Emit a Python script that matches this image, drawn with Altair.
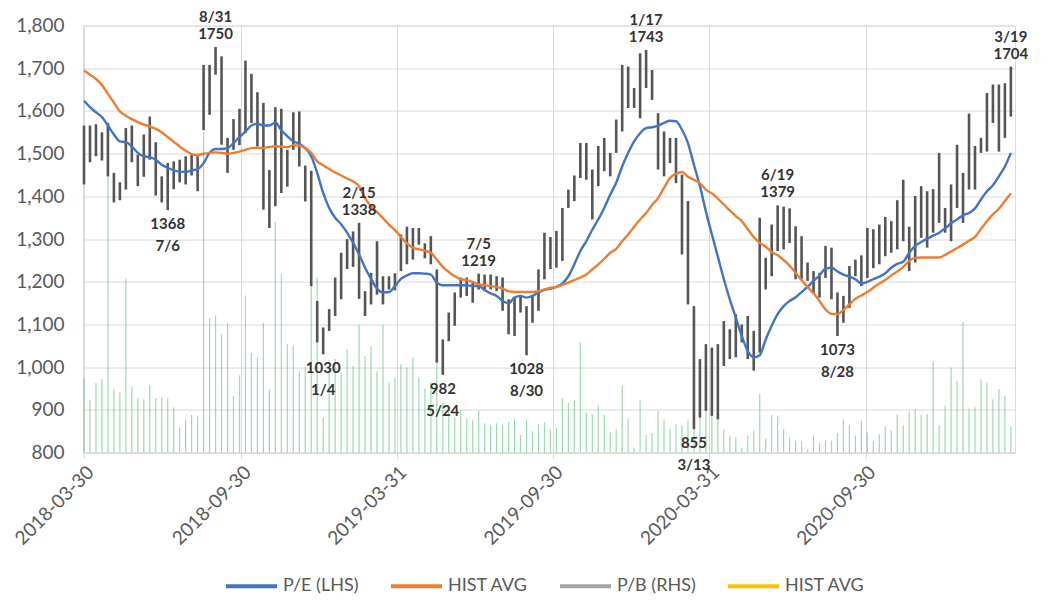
import altair as alt
import pandas as pd

# ---------------- data (weekly, Fridays) ----------------
start_date = "2018-03-30"

high = [
    1566, 1566, 1569, 1550, 1572, 1455, 1433, 1560, 1566, 1498,
    1545, 1587, 1527, 1447, 1478, 1482, 1486, 1494, 1498, 1494,
    1708, 1708, 1750, 1728, 1537, 1581, 1605, 1718, 1687, 1644,
    1619, 1462, 1609, 1605, 1509, 1597, 1599, 1472, 1460, 1155,
    1093, 1136, 1210, 1268, 1300, 1318, 1338, 1178, 1221, 1295,
    1213, 1213, 1220, 1311, 1329, 1326, 1326, 1290, 1307, 1229,
    1065, 1128, 1175, 1210, 1210, 1198, 1219, 1217, 1217, 1213,
    1210, 1159, 1163, 1167, 1143, 1167, 1229, 1315, 1305, 1319,
    1373, 1416, 1449, 1525, 1525, 1463, 1518, 1537, 1502, 1580,
    1708, 1704, 1654, 1735, 1743, 1696, 1595, 1552, 1537, 1537,
    1451, 1389, 1143, 1019, 1054, 1046, 1054, 1108, 1089, 1124,
    1100, 1120, 1085, 1350, 1256, 1334, 1379, 1376, 1372, 1330,
    1307, 1245, 1225, 1221, 1284, 1280, 1175, 1167, 1237, 1252,
    1262, 1326, 1323, 1334, 1352, 1342, 1391, 1439, 1329, 1401,
    1424, 1412, 1417, 1502, 1373, 1428, 1521, 1455, 1594, 1518,
    1537, 1642, 1662, 1662, 1665, 1704,
]

low = [
    1428, 1480, 1494, 1484, 1447, 1386, 1391, 1416, 1480, 1424,
    1446, 1486, 1402, 1386, 1368, 1417, 1433, 1428, 1449, 1412,
    1555, 1591, 1685, 1521, 1455, 1509, 1520, 1548, 1572, 1517,
    1369, 1326, 1377, 1408, 1423, 1509, 1470, 1388, 1190, 1058,
    1030, 1085, 1120, 1159, 1230, 1235, 1160, 1120, 1147, 1170,
    1147, 1182, 1180, 1225, 1241, 1252, 1287, 1255, 1241, 1011,
    982, 1061, 1097, 1163, 1167, 1151, 1182, 1178, 1182, 1178,
    1132, 1077, 1073, 1128, 1028, 1104, 1132, 1206, 1230, 1233,
    1249, 1373, 1389, 1443, 1439, 1346, 1424, 1459, 1447, 1502,
    1552, 1607, 1607, 1583, 1654, 1626, 1463, 1447, 1478, 1431,
    1264, 1147, 855, 882, 898, 886, 878, 1003, 1019, 1023,
    1058, 1019, 992, 1034, 1182, 1213, 1272, 1276, 1291, 1206,
    1206, 1202, 1171, 1163, 1209, 1159, 1073, 1104, 1139, 1213,
    1190, 1209, 1232, 1241, 1260, 1268, 1276, 1295, 1225, 1245,
    1303, 1280, 1315, 1338, 1315, 1295, 1373, 1338, 1416, 1416,
    1502, 1505, 1572, 1505, 1537, 1587,
]

pe_line = [
    1624, 1609, 1597, 1586, 1566, 1545, 1529, 1527, 1517, 1502,
    1494, 1492, 1486, 1474, 1467, 1461, 1458, 1457, 1461, 1464,
    1478, 1502, 1511, 1511, 1513, 1525, 1539, 1552, 1566, 1570,
    1566, 1566, 1573, 1555, 1541, 1529, 1523, 1513, 1494, 1455,
    1408, 1373, 1350, 1335, 1315, 1291, 1264, 1233, 1207, 1184,
    1175, 1176, 1190, 1207, 1215, 1220, 1220, 1219, 1217, 1198,
    1192, 1192, 1192, 1192, 1192, 1190, 1190, 1181, 1173, 1167,
    1155, 1150, 1163, 1167, 1163, 1167, 1175, 1181, 1184, 1188,
    1196, 1213, 1241, 1272, 1295, 1322, 1346, 1373, 1404, 1432,
    1470, 1502, 1529, 1548, 1560, 1562, 1566, 1572, 1577, 1576,
    1556, 1525, 1474, 1424, 1365, 1311, 1259, 1206, 1159, 1116,
    1073, 1038, 1023, 1028, 1065, 1097, 1124, 1143, 1155, 1164,
    1176, 1188, 1202, 1215, 1231, 1233, 1224, 1217, 1212, 1206,
    1196, 1200, 1206, 1212, 1220, 1233, 1242, 1247, 1268, 1284,
    1293, 1301, 1308, 1315, 1325, 1337, 1346, 1356, 1361, 1372,
    1393, 1412, 1426, 1447, 1470, 1502,
]

hist_avg = [
    1695, 1685, 1675, 1661, 1640, 1620, 1599, 1589, 1581, 1574,
    1568, 1564, 1558, 1550, 1539, 1528, 1517, 1507, 1499, 1497,
    1500, 1502, 1503, 1502, 1500, 1502, 1505, 1509, 1513, 1514,
    1513, 1516, 1517, 1517, 1515, 1520, 1519, 1513, 1502, 1482,
    1473, 1464, 1456, 1449, 1442, 1435, 1424, 1396, 1377, 1363,
    1349, 1334, 1321, 1305, 1290, 1280, 1276, 1273, 1268, 1252,
    1235, 1223, 1213, 1206, 1204, 1200, 1194, 1192, 1190, 1188,
    1184, 1178, 1176, 1176, 1176, 1176, 1178, 1182, 1186, 1188,
    1193, 1198, 1204, 1210, 1217, 1229, 1241, 1254, 1268, 1277,
    1295, 1311, 1329, 1346, 1361, 1380, 1396, 1420, 1443, 1453,
    1457, 1446, 1439, 1431, 1416, 1407, 1395, 1381, 1367, 1354,
    1342, 1323, 1305, 1291, 1282, 1270, 1262, 1251, 1238, 1221,
    1204, 1188, 1173, 1155, 1135, 1125, 1124, 1134, 1147, 1160,
    1168, 1176, 1186, 1196, 1204, 1215, 1224, 1235, 1249, 1256,
    1257, 1257, 1257, 1257, 1263, 1271, 1279, 1287, 1296, 1305,
    1324, 1342, 1358, 1371, 1389, 1407,
]

volume = [
    973, 923, 963, 972, 1450, 949, 941, 1207, 954, 927,
    925, 958, 928, 929, 927, 906, 859, 878, 888, 885,
    1550, 1116, 1121, 1077, 1104, 933, 981, 1168, 1033, 1023,
    1104, 947, 1340, 1218, 1054, 1050, 990, 1000, 1215, 1210,
    882, 1000, 1019, 988, 1042, 1003, 1100, 1026, 1050, 990,
    1100, 964, 976, 1007, 999, 1022, 976, 950, 964, 1215,
    917, 902, 882, 900, 878, 875, 898, 869, 864, 869,
    864, 872, 878, 841, 878, 850, 867, 871, 854, 857,
    927, 916, 923, 1058, 894, 890, 910, 888, 847, 855,
    958, 880, 812, 922, 841, 846, 898, 876, 855, 867,
    864, 875, 1018, 894, 925, 886, 894, 855, 840, 836,
    812, 840, 852, 937, 833, 888, 886, 855, 836, 828,
    826, 808, 840, 824, 830, 828, 846, 878, 864, 840,
    875, 847, 828, 843, 861, 851, 890, 864, 896, 901,
    888, 890, 1015, 864, 910, 999, 968, 1106, 903, 906,
    972, 964, 925, 949, 933, 862,
]

# annotations
ann_dates = ["2018-08-31", "2018-07-06", "2019-02-15", "2019-01-04", "2019-05-24", "2019-07-05",
             "2019-08-30", "2020-01-17", "2020-03-13", "2020-06-19", "2020-08-28", "2021-03-19"]
ann_values = [1750, 1368, 1338, 1030, 982, 1219, 1028, 1743, 855, 1379, 1073, 1704]
ann_date_labels = ["8/31", "7/6", "2/15", "1/4", "5/24", "7/5", "8/30", "1/17", "3/13", "6/19", "8/28", "3/19"]
ann_side = ["above", "below", "above", "below", "below", "above", "below", "above", "below", "above", "below", "above"]

# axis ticks
x_tick_dates = ["2018-03-30", "2018-09-30", "2019-03-31", "2019-09-30", "2020-03-31", "2020-09-30"]
y_ticks = [800, 900, 1000, 1100, 1200, 1300, 1400, 1500, 1600, 1700, 1800]
x_domain = ["2018-03-28 20:00", "2021-03-23 20:00"]

legend_names = ["P/E (LHS)", "HIST AVG", "P/B (RHS)", "HIST AVG (RHS)"]
legend_colors = ["#4472C4", "#ED7D31", "#A5A5A5", "#FFC000"]

# ---------------- tables ----------------
dates = pd.date_range(start_date, periods=len(high), freq="7D").strftime("%Y-%m-%d")
df = pd.DataFrame({"date": dates, "high": high, "low": low, "vol": volume,
                   "base": [800] * len(high)})
lines = pd.concat([
    pd.DataFrame({"date": dates, "series": legend_names[0], "value": pe_line}),
    pd.DataFrame({"date": dates, "series": legend_names[1], "value": hist_avg}),
])
ann = pd.DataFrame({"date": ann_dates, "value": ann_values,
                    "vlabel": [str(v) for v in ann_values],
                    "dlabel": ann_date_labels, "side": ann_side})


def ms(s):
    return int(pd.Timestamp(s).value // 10**6)


x_scale = alt.Scale(type="utc", domain=[ms(d) for d in x_domain])
y_scale = alt.Scale(domain=[800, 1800], nice=False, zero=False)

FONT = "Lato"
GRID = "#d9d9d9"
LABEL = "#595959"

x_axis = alt.Axis(values=[ms(d) for d in x_tick_dates], format="%Y-%m-%d", labelAngle=315,
                  labelFont=FONT, labelFontSize=19, labelColor=LABEL, grid=True,
                  gridColor=GRID, domainColor=GRID, tickColor=GRID, tickSize=6,
                  labelPadding=4, title=None, labelOverlap=False)
y_axis = alt.Axis(values=y_ticks, format=",.0f", labelFont=FONT, labelFontSize=19,
                  labelColor=LABEL, grid=True, gridColor=GRID, domain=False, ticks=False,
                  labelPadding=19, title=None)

X = alt.X("date:T", scale=x_scale, axis=x_axis)


def Y(field):
    return alt.Y(field, type="quantitative", scale=y_scale, axis=y_axis)


vol_layer = alt.Chart(df).mark_rule(color="#5cbf7d", opacity=0.6, strokeWidth=1.2).encode(
    x=X, y=Y("base"), y2="vol:Q",
)

bar_layer = alt.Chart(df).mark_rule(color="#555555", strokeWidth=2.6).encode(
    x=X, y=Y("low"), y2="high:Q",
)

line_layer = alt.Chart(lines).mark_line(strokeWidth=2.4, interpolate="monotone").encode(
    x=X,
    y=Y("value"),
    color=alt.Color("series:N", scale=alt.Scale(domain=legend_names, range=legend_colors),
                    legend=alt.Legend(orient="none", direction="horizontal", legendX=141,
                                      legendY=533, title=None, symbolType="stroke",
                                      symbolSize=2600, symbolStrokeWidth=4,
                                      labelFont=FONT, labelFontSize=18, labelColor=LABEL,
                                      labelOffset=4, columnPadding=24,
                                      labelExpr="datum.label == 'HIST AVG (RHS)' ? 'HIST AVG' : datum.label")),
    detail="series:N",
)


def text_layer(side, field, dy):
    return alt.Chart(ann).transform_filter(alt.datum.side == side).mark_text(
        font=FONT, fontSize=15, fontWeight="bold", color="#333333",
        align="center", baseline="middle", dy=dy,
    ).encode(x=X, y=Y("value"), text=f"{field}:N")


chart = alt.layer(
    vol_layer, bar_layer, line_layer,
    text_layer("above", "vlabel", -13), text_layer("above", "dlabel", -30),
    text_layer("below", "vlabel", 14), text_layer("below", "dlabel", 36),
).properties(
    width=932, height=427,
    padding={"left": 75, "top": 17.6, "right": 23, "bottom": 144},
    autosize=alt.AutoSizeParams(type="none"),
).configure_view(stroke=None).configure(background="white")

chart.save("out.html", embed_options={"renderer": "svg", "actions": False})
